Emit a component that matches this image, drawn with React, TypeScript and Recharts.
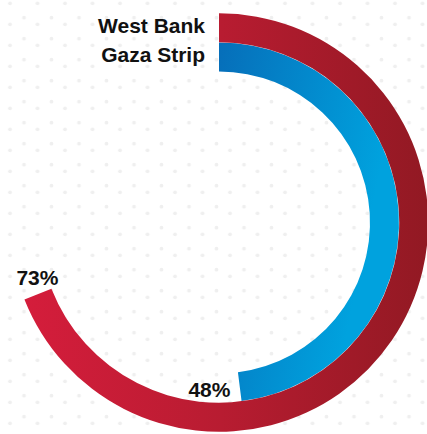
import React from "react";
import { RadialBarChart, RadialBar, PolarAngleAxis, PolarRadiusAxis, Cell, LabelList } from "recharts";

// Categories, from the innermost ring to the outermost ring
const categories: string[] = ["Gaza Strip", "West Bank"];
// Arc lengths as drawn in the picture (percent of a full turn)
const arcValues: number[] = [48, 69];
// Value labels as printed on the picture
const valueLabels: string[] = ["48%", "73%"];

const gradientIds = ["gazaGrad", "westGrad"];

const data = categories.map((name, i) => ({
  name,
  value: arcValues[i],
  label: valueLabels[i],
}));

// how far past the arc end (degrees) and how far from the ring middle (px) each value label sits
const endLabelAngleOffset: Record<string, number> = { "48%": 10.5, "73%": 4.7 };
const endLabelRadiusOffset: Record<string, number> = { "48%": 1.3, "73%": -5 };

const RAD = Math.PI / 180;
const FONT = '"Liberation Sans", Arial, Helvetica, sans-serif';

const polar = (cx: number, cy: number, r: number, angle: number) => ({
  x: cx + r * Math.cos(-angle * RAD),
  y: cy + r * Math.sin(-angle * RAD),
});

const NameLabel = (props: any) => {
  const vb = props.viewBox || {};
  if (vb.cx === undefined) return null;
  const mid = (vb.innerRadius + vb.outerRadius) / 2;
  const p = polar(vb.cx, vb.cy, mid, Math.max(vb.startAngle, vb.endAngle));
  return (
    <text
      x={p.x - 14}
      y={p.y + 5}
      textAnchor="end"
      fontFamily={FONT}
      fontWeight="bold"
      fontSize={21}
      fill="#111111"
    >
      {props.value}
    </text>
  );
};

const EndLabel = (props: any) => {
  const vb = props.viewBox || {};
  if (vb.cx === undefined) return null;
  const key = String(props.value);
  const mid = (vb.innerRadius + vb.outerRadius) / 2 + (endLabelRadiusOffset[key] ?? 0);
  const end = Math.min(vb.startAngle, vb.endAngle);
  const p = polar(vb.cx, vb.cy, mid, end - (endLabelAngleOffset[key] ?? 7));
  return (
    <text
      x={p.x}
      y={p.y + 7.5}
      textAnchor="middle"
      fontFamily={FONT}
      fontWeight="bold"
      fontSize={21}
      fill="#111111"
    >
      {props.value}
    </text>
  );
};

export default function App() {
  return (
    <div style={{ position: "absolute", left: 0, top: 0, width: 427, height: 434, background: "#ffffff" }}>
      <svg width={427} height={434} style={{ position: "absolute", left: 0, top: 0 }}>
        <defs>
          <pattern id="dots" patternUnits="userSpaceOnUse" width={27.5} height={21}>
            <circle cx={10} cy={3.3} r={1.9} fill="#efefef" />
            <circle cx={24} cy={17.7} r={1.9} fill="#efefef" />
            <circle cx={-3.5} cy={17.7} r={1.9} fill="#efefef" />
            <circle cx={37.5} cy={3.3} r={1.9} fill="#efefef" />
          </pattern>
        </defs>
        <rect x={0} y={0} width={427} height={434} fill="url(#dots)" />
      </svg>
      <div style={{ position: "absolute", left: 0, top: 0 }}>
        <RadialBarChart
          width={427}
          height={434}
          cx={219}
          cy={222.5}
          innerRadius={151}
          outerRadius={209.5}
          startAngle={90}
          endAngle={-270}
          barCategoryGap={0}
          barGap={0}
          data={data}
          margin={{ top: 0, right: 0, bottom: 0, left: 0 }}
        >
          <defs>
            <linearGradient id="westGrad" gradientUnits="userSpaceOnUse" x1={15} y1={0} x2={427} y2={0}>
              <stop offset="0" stopColor="#d61d3c" />
              <stop offset="0.5" stopColor="#b81c31" />
              <stop offset="1" stopColor="#921923" />
            </linearGradient>
            <linearGradient id="gazaGrad" gradientUnits="userSpaceOnUse" x1={219} y1={57} x2={396} y2={93}>
              <stop offset="0" stopColor="#066fba" />
              <stop offset="1" stopColor="#00a2de" />
            </linearGradient>
          </defs>
          <PolarAngleAxis type="number" domain={[0, 100]} tick={false} axisLine={false} />
          <PolarRadiusAxis type="category" dataKey="name" tick={false} axisLine={false} />
          <RadialBar dataKey="value" isAnimationActive={false}>
            {data.map((d, i) => (
              <Cell key={d.name} fill={`url(#${gradientIds[i]})`} />
            ))}
            <LabelList dataKey="name" content={NameLabel} />
            <LabelList dataKey="label" content={EndLabel} />
          </RadialBar>
        </RadialBarChart>
      </div>
    </div>
  );
}
